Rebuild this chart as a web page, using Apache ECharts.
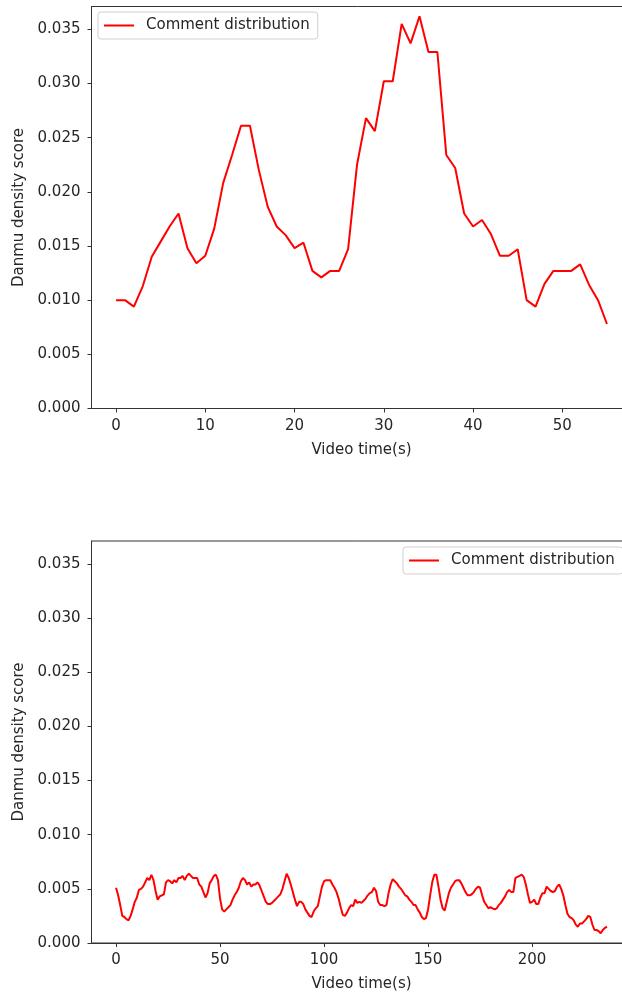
<!DOCTYPE html>
<html><head><meta charset="utf-8">
<script src="https://cdn.jsdelivr.net/npm/echarts@6/dist/echarts.min.js"></script>
<style>html,body{margin:0;padding:0;background:#fff;}#c{width:622px;height:995px;}</style>
</head><body><div id="c"></div>
<script>
const seriesName = 'Comment distribution';
const xAxisName = 'Video time(s)';
const yAxisName = 'Danmu density score';

// Top video: density per second (0..55 s)
const topValues = [
  0.0100,0.0100,0.0094,0.0113,0.0140,0.0154,0.0168,0.0180,0.0148,0.0134,
  0.0141,0.0166,0.0208,0.0234,0.0261,0.0261,0.0220,0.0186,0.0168,0.0160,
  0.0148,0.0153,0.0127,0.0121,0.0127,0.0127,0.0147,0.0225,0.0268,0.0256,
  0.0302,0.0302,0.0355,0.0337,0.0362,0.0329,0.0329,0.0234,0.0222,0.0180,
  0.0168,0.0174,0.0161,0.0141,0.0141,0.0147,0.0100,0.0094,0.0115,0.0127,
  0.0127,0.0127,0.0133,0.0114,0.0100,0.0078
];

// Bottom video: density per second (0..236 s)
const bottomValues = [
  0.0051,0.0044,0.0035,0.0025,0.0024,0.0022,0.0021,0.0025,0.0031,0.0038,
  0.0042,0.0049,0.0050,0.0052,0.0056,0.0060,0.0058,0.0063,0.0058,0.0048,
  0.0040,0.0043,0.0044,0.0045,0.0056,0.0058,0.0057,0.0055,0.0058,0.0056,
  0.0060,0.0060,0.0062,0.0058,0.0062,0.0064,0.0062,0.0060,0.0060,0.0060,
  0.0054,0.0052,0.0047,0.0042,0.0046,0.0055,0.0058,0.0062,0.0063,0.0058,
  0.0041,0.0031,0.0029,0.0031,0.0033,0.0035,0.0040,0.0044,0.0047,0.0051,
  0.0057,0.0060,0.0058,0.0054,0.0056,0.0052,0.0054,0.0054,0.0056,0.0053,
  0.0048,0.0043,0.0038,0.0036,0.0036,0.0037,0.0039,0.0041,0.0043,0.0045,
  0.0050,0.0057,0.0064,0.0060,0.0054,0.0047,0.0040,0.0034,0.0038,0.0038,
  0.0036,0.0031,0.0028,0.0025,0.0024,0.0029,0.0032,0.0034,0.0043,0.0052,
  0.0057,0.0058,0.0058,0.0058,0.0054,0.0051,0.0047,0.0041,0.0033,0.0026,
  0.0025,0.0028,0.0032,0.0035,0.0034,0.0040,0.0037,0.0038,0.0037,0.0039,
  0.0041,0.0044,0.0046,0.0047,0.0051,0.0048,0.0038,0.0035,0.0035,0.0034,
  0.0035,0.0046,0.0054,0.0059,0.0057,0.0055,0.0052,0.0050,0.0047,0.0044,
  0.0043,0.0040,0.0038,0.0035,0.0035,0.0031,0.0028,0.0024,0.0022,0.0023,
  0.0031,0.0044,0.0056,0.0063,0.0063,0.0052,0.0040,0.0032,0.0030,0.0038,
  0.0046,0.0051,0.0054,0.0057,0.0058,0.0058,0.0055,0.0051,0.0047,0.0044,
  0.0044,0.0045,0.0047,0.0050,0.0052,0.0051,0.0044,0.0038,0.0035,0.0032,
  0.0033,0.0032,0.0031,0.0032,0.0035,0.0037,0.0040,0.0043,0.0047,0.0049,
  0.0047,0.0047,0.0060,0.0061,0.0062,0.0063,0.0061,0.0054,0.0045,0.0037,
  0.0038,0.0040,0.0036,0.0036,0.0042,0.0046,0.0046,0.0052,0.0050,0.0048,
  0.0047,0.0048,0.0052,0.0054,0.0050,0.0044,0.0035,0.0027,0.0024,0.0023,
  0.0021,0.0017,0.0015,0.0018,0.0018,0.0020,0.0022,0.0025,0.0024,0.0017,
  0.0012,0.0012,0.0011,0.0009,0.0012,0.0014,0.0015
];

const topXTicks = [0, 10, 20, 30, 40, 50];
const bottomXTicks = [0, 50, 100, 150, 200];
const yTicks = [0, 0.005, 0.010, 0.015, 0.020, 0.025, 0.030, 0.035];

const FONT = 'DejaVu Sans';
const FS = 15;
const TXT = '#262626';
const AX = '#333';

function pairs(vals) { return vals.map((v, i) => [i, v]); }
function xMargin(vals) { return (vals.length - 1) * 0.05; }

function xAxis(gridIndex, vals, ticks) {
  const m = xMargin(vals);
  return {
    type: 'value', gridIndex, min: -m, max: (vals.length - 1) + m,
    name: xAxisName, nameLocation: 'middle', nameGap: 34,
    nameTextStyle: { fontFamily: FONT, fontSize: FS, color: TXT },
    axisLine: { show: true, onZero: false, lineStyle: { color: AX, width: 1 } },
    axisTick: { show: true, length: 4, customValues: ticks, lineStyle: { color: AX } },
    axisLabel: { customValues: ticks, margin: 10, fontFamily: FONT, fontSize: FS, color: TXT },
    splitLine: { show: false }
  };
}
function yAxis(gridIndex) {
  return {
    type: 'value', gridIndex, min: 0, max: 0.0371,
    name: yAxisName, nameLocation: 'middle', nameGap: 61,
    nameTextStyle: { fontFamily: FONT, fontSize: FS, color: TXT },
    axisLine: { show: true, onZero: false, lineStyle: { color: AX, width: 1 } },
    axisTick: { show: true, length: 4, customValues: yTicks, lineStyle: { color: AX } },
    axisLabel: { customValues: yTicks, margin: 11, fontFamily: FONT, fontSize: FS, color: TXT,
      formatter: v => v.toFixed(3) },
    splitLine: { show: false }
  };
}
function legend(left, top) {
  return {
    left, top, data: [{ name: seriesName, icon: 'rect' }], orient: 'horizontal',
    itemWidth: 30, itemHeight: 2, padding: [6, 8, 6, 6],
    backgroundColor: 'rgba(255,255,255,0.85)', borderColor: '#d0d0d0', borderWidth: 1, borderRadius: 3,
    textStyle: { fontFamily: FONT, fontSize: FS, color: TXT, padding: [0, 0, 0, 7] },
    selectedMode: false
  };
}

const chart = echarts.init(document.getElementById('c'), null, { renderer: 'canvas' });
chart.setOption({
  animation: false,
  backgroundColor: '#fff',
  grid: [
    { left: 91.5, top: 6.5, width: 540, height: 402, show: true, borderColor: AX, borderWidth: 1, outerBoundsMode: 'none', containLabel: false },
    { left: 91.5, top: 541, width: 540, height: 402, show: true, borderColor: AX, borderWidth: 1, outerBoundsMode: 'none', containLabel: false }
  ],
  xAxis: [xAxis(0, topValues, topXTicks), xAxis(1, bottomValues, bottomXTicks)],
  yAxis: [yAxis(0), yAxis(1)],
  legend: [legend(98, 12), legend(403, 547)],
  series: [
    { name: seriesName, type: 'line', xAxisIndex: 0, yAxisIndex: 0, data: pairs(topValues),
      symbol: 'none', lineStyle: { color: '#ff0000', width: 2 }, itemStyle: { color: '#ff0000' } },
    { name: seriesName, type: 'line', xAxisIndex: 1, yAxisIndex: 1, data: pairs(bottomValues),
      symbol: 'none', lineStyle: { color: '#ff0000', width: 2 }, itemStyle: { color: '#ff0000' } }
  ]
});
</script>
</body></html>
